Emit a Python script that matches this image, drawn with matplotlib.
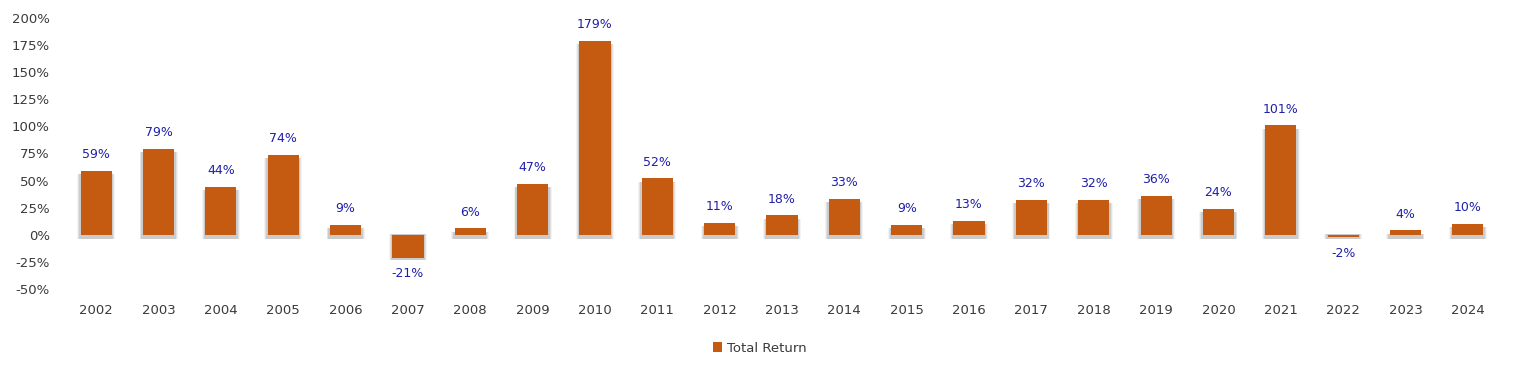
import matplotlib.pyplot as plt
from matplotlib.ticker import FuncFormatter

# Data
years = ['2002', '2003', '2004', '2005', '2006', '2007', '2008', '2009', '2010', '2011', '2012',
         '2013', '2014', '2015', '2016', '2017', '2018', '2019', '2020', '2021', '2022', '2023', '2024']
total_return = [59, 79, 44, 74, 9, -21, 6, 47, 179, 52, 11,
                18, 33, 9, 13, 32, 32, 36, 24, 101, -2, 4, 10]

BAR_COLOR = '#C55A11'
LABEL_COLOR = '#1F1FA8'
TEXT_COLOR = '#3A3A3A'

fig = plt.figure(figsize=(15.2, 3.75), dpi=100)
ax = fig.add_axes([65 / 1520, 1 - 289 / 375, 1434 / 1520, (289 - 18) / 375])

x = list(range(len(years)))

# soft shadow behind bars
for grow, alpha in [(0.11, 0.07), (0.08, 0.10), (0.05, 0.16)]:
    ax.bar(x, [v - 3 if v < 0 else v + 1 for v in total_return], width=0.5 + grow,
           bottom=[-4 if v >= 0 else 1 for v in total_return],
           color='#555555', alpha=alpha, zorder=1, linewidth=0)

ax.bar(x, total_return, width=0.5, color=BAR_COLOR, zorder=3, label='Total Return')

# value labels
for xi, v in zip(x, total_return):
    if v >= 0:
        ax.text(xi, v + 9, f'{v}%', ha='center', va='bottom', color=LABEL_COLOR, fontsize=9)
    else:
        ax.text(xi, v - 9, f'{v}%', ha='center', va='top', color=LABEL_COLOR, fontsize=9)

ax.set_xlim(-0.5, len(years) - 0.5)
ax.set_ylim(-50, 200)
ax.set_yticks(range(-50, 201, 25))
ax.yaxis.set_major_formatter(FuncFormatter(lambda v, p: f'{int(v)}%'))
ax.set_xticks(x)
ax.set_xticklabels(years)

for s in ax.spines.values():
    s.set_visible(False)
ax.tick_params(length=0, colors=TEXT_COLOR, labelsize=9.5)
ax.tick_params(axis='x', pad=11)
ax.tick_params(axis='y', pad=11)

fig.legend(loc='center', bbox_to_anchor=(0.5, 1 - 348 / 375), frameon=False,
           handlelength=0.7, handleheight=0.7, handletextpad=0.4,
           fontsize=9.5, labelcolor=TEXT_COLOR)

plt.savefig('out.png', dpi=100)
